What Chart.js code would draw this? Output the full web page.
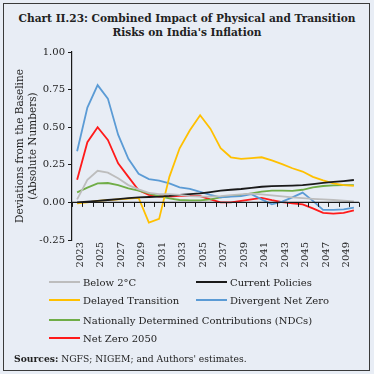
<!DOCTYPE html>
<html>
<head>
<meta charset="utf-8">
<script src="https://cdn.jsdelivr.net/npm/chart.js@4"></script>
<style>
  html,body{margin:0;padding:0;}
  body{width:374px;height:374px;background:#e8edf5;position:relative;overflow:hidden;font-family:"DejaVu Serif",serif;color:#222;}
  #frame{position:absolute;left:3px;top:3px;width:365px;height:366px;border:1.5px solid #3a3a3a;}
  #title{position:absolute;left:0;top:11px;width:374px;text-align:center;font-weight:bold;font-size:10.6px;line-height:14px;color:#222;}
  #cv{position:absolute;left:0;top:0;}
  #legend{position:absolute;left:0;top:0;width:374px;height:374px;pointer-events:none;}
  .li{position:absolute;font-size:10px;white-space:nowrap;display:flex;align-items:center;}
  .li span.sw{display:inline-block;width:31px;height:2.5px;margin-right:3px;}
  #src{position:absolute;left:14px;top:353px;font-size:9.2px;white-space:nowrap;}
</style>
</head>
<body>
<div id="frame"></div>
<div id="title">Chart II.23: Combined Impact of Physical and Transition<br>Risks on India's Inflation</div>
<canvas id="cv" width="374" height="374"></canvas>
<div id="legend"></div>
<div id="src"><b>Sources:</b> NGFS; NIGEM; and Authors' estimates.</div>
<script>
const years = ["2023","2024","2025","2026","2027","2028","2029","2030","2031","2032","2033","2034","2035","2036","2037","2038","2039","2040","2041","2042","2043","2044","2045","2046","2047","2048","2049","2050"];
const seriesNames = ["Below 2°C","Current Policies","Delayed Transition","Divergent Net Zero","Nationally Determined Contributions (NDCs)","Net Zero 2050"];
const below2C = [0.02,0.15,0.21,0.198,0.16,0.115,0.087,0.064,0.055,0.055,0.05,0.042,0.038,0.038,0.042,0.049,0.053,0.058,0.053,0.047,0.04,0.033,0.029,0.024,0.02,0.016,0.011,0.007];
const currentPolicies = [0.0,0.005,0.01,0.016,0.022,0.028,0.033,0.036,0.038,0.043,0.05,0.055,0.06,0.069,0.078,0.084,0.089,0.096,0.104,0.108,0.11,0.112,0.115,0.122,0.13,0.136,0.142,0.149];
const delayedTransition = [-0.007,0.0,0.01,0.015,0.02,0.025,0.03,-0.135,-0.11,0.17,0.36,0.48,0.58,0.49,0.36,0.30,0.29,0.295,0.30,0.28,0.255,0.227,0.205,0.17,0.147,0.127,0.115,0.11];
const divergentNetZero = [0.34,0.63,0.78,0.69,0.45,0.29,0.19,0.155,0.145,0.127,0.10,0.09,0.07,0.05,0.033,0.038,0.042,0.055,0.02,-0.013,0.005,0.033,0.065,0.01,-0.05,-0.05,-0.047,-0.035];
const ndcs = [0.067,0.098,0.127,0.129,0.115,0.093,0.078,0.06,0.042,0.027,0.016,0.013,0.013,0.02,0.033,0.042,0.049,0.06,0.071,0.078,0.078,0.076,0.084,0.1,0.109,0.113,0.115,0.115];
const netZero2050 = [0.15,0.40,0.50,0.415,0.26,0.17,0.08,0.05,0.038,0.038,0.044,0.044,0.042,0.02,0.0,0.0,0.01,0.02,0.03,0.015,0.002,-0.007,-0.013,-0.04,-0.07,-0.075,-0.07,-0.053];
const yTicks = [-0.25,0,0.25,0.5,0.75,1.0];

const colors = ["#bdbdbd","#1a1a1a","#ffc000","#5b9bd5","#70ad47","#ff1a1a"];
const allSeries = [below2C,currentPolicies,delayedTransition,divergentNetZero,ndcs,netZero2050];

const zeroAxis = {
  id:'zeroAxis',
  afterDatasetsDraw(chart){
    const {ctx, chartArea, scales:{x,y}} = chart;
    const y0 = y.getPixelForValue(0);
    ctx.save();
    ctx.strokeStyle = '#1a1a1a';
    ctx.lineWidth = 1.2;
    ctx.beginPath();
    ctx.moveTo(chartArea.left, y0);
    ctx.lineTo(chartArea.right, y0);
    ctx.stroke();
    ctx.lineWidth = 1;
    const n = years.length;
    for(let i=0;i<=n;i++){
      const px = Math.round(x.getPixelForValue(i - 0.5)) + 0.5;
      ctx.beginPath();
      ctx.moveTo(px, y0);
      ctx.lineTo(px, y0 + 4.5);
      ctx.stroke();
    }
    ctx.restore();
  }
};

const chart = new Chart(document.getElementById('cv'), {
  type:'line',
  data:{
    labels: years,
    datasets: seriesNames.map((name,i)=>({
      label:name,
      data:allSeries[i],
      borderColor:colors[i],
      backgroundColor:colors[i],
      borderWidth:1.8,
      pointRadius:0,
      tension:0,
      fill:false
    }))
  },
  options:{
    responsive:false,
    animation:false,
    devicePixelRatio:1,
    layout:{padding:{top:52,left:0,right:15,bottom:96}},
    plugins:{legend:{display:false},title:{display:false},tooltip:{enabled:false}},
    scales:{
      x:{
        type:'category',
        offset:true,
        grid:{display:false,drawTicks:false,tickLength:0},
        border:{display:false},
        ticks:{
          autoSkip:false,
          minRotation:90,maxRotation:90,
          padding:2,
          labelOffset:3,
          color:'#222',
          font:{family:'"DejaVu Serif", serif',size:10},
          callback:function(v,i){return i%2===0?years[i]:'';}
        },
        afterFit(s){s.height=38;}
      },
      y:{
        min:-0.25,max:1.0,
        afterBuildTicks(s){s.ticks = yTicks.map(v=>({value:v}));},
        grid:{drawOnChartArea:false,drawTicks:true,tickLength:4,color:'#1a1a1a',lineWidth:1},
        border:{display:true,color:'#1a1a1a',width:1.2},
        ticks:{
          color:'#222',padding:3,
          font:{family:'"DejaVu Serif", serif',size:10},
          callback:v=>Number(v).toFixed(2)
        },
        title:{
          display:true,
          text:['Deviations from the Baseline','(Absolute Numbers)'],
          color:'#222',
          font:{family:'"DejaVu Serif", serif',size:10.5,lineHeight:1.25},
          padding:{top:14,bottom:0}
        },
        afterFit(s){s.width=72;}
      }
    }
  },
  plugins:[zeroAxis]
});

// HTML legend built from the chart's datasets
const legendPos = [[49,275],[196,275],[49,293],[196,293],[49,313],[49,331]];
const lg = document.getElementById('legend');
chart.data.datasets.forEach((ds,i)=>{
  const d = document.createElement('div');
  d.className='li';
  d.style.left = legendPos[i][0]+'px';
  d.style.top = legendPos[i][1]+'px';
  d.style.height = '14px';
  const sw = document.createElement('span');
  sw.className='sw';
  sw.style.background = ds.borderColor;
  d.appendChild(sw);
  d.appendChild(document.createTextNode(ds.label));
  lg.appendChild(d);
});
</script>
</body>
</html>
